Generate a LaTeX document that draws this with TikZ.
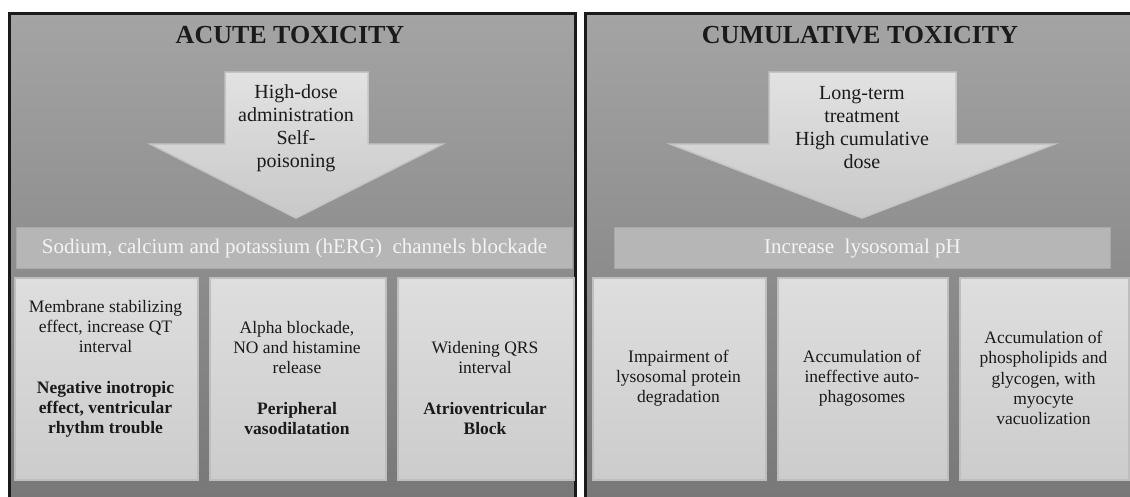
\documentclass[tikz,border=0pt]{standalone}
\usepackage{fontspec}
\setmainfont{Liberation Serif}
\definecolor{panelTop}{HTML}{A4A4A4}
\definecolor{panelBot}{HTML}{767676}
\definecolor{boxTop}{HTML}{DEDEDE}
\definecolor{boxBot}{HTML}{CCCCCC}
\definecolor{boxEdge}{HTML}{BEBEBE}
\definecolor{barFill}{HTML}{B6B6B6}
\definecolor{barEdge}{HTML}{A8A8A8}
\definecolor{arrTop}{HTML}{E2E2E2}
\definecolor{arrBot}{HTML}{C8C8C8}
\definecolor{arrEdge}{HTML}{C4C4C4}
\definecolor{barText}{HTML}{F4F4F4}
\definecolor{ink}{HTML}{1A1A1A}
\tikzset{
  panel/.style={draw=ink, line width=3pt, top color=panelTop, bottom color=panelBot},
  bigarrow/.style={draw=arrEdge, line width=1.5pt, top color=arrTop, bottom color=arrBot},
  bar/.style={draw=barEdge, line width=1pt, fill=barFill, inner sep=0pt,
    font=\fontsize{21}{24}\selectfont, text=barText, anchor=north west},
  effbox/.style={draw=boxEdge, line width=1.5pt, top color=boxTop, bottom color=boxBot,
    inner sep=0pt, anchor=north west, minimum height=202pt},
  title/.style={font=\fontsize{26}{29}\selectfont\bfseries, text=ink},
  arrtxt/.style={font=\fontsize{20}{23}\selectfont, text=ink, align=center},
  boxtxt/.style={font=\fontsize{17.5}{20.2}\selectfont, text=ink, align=center},
}
\begin{document}
\begin{tikzpicture}[x=1pt,y=-1pt]
\useasboundingbox (0,0) rectangle (1130,496);
\clip (0,0) rectangle (1130,496);
% panels
\path[panel] (9.5,13) rectangle (575,520);
\path[panel] (585,13) rectangle (1160,520);
% titles
\node[title] (t1) at (290,35) {ACUTE TOXICITY};
\node[title] (t2) at (860,35) {CUMULATIVE TOXICITY};
% arrows
\path[bigarrow] (225,72) -- (368,72) -- (368,144) -- (443,144) -- (296,218) -- (150,144) -- (225,144) -- cycle;
\path[bigarrow] (769,72) -- (956,72) -- (956,144) -- (1055,144) -- (862,218) -- (670,144) -- (769,144) -- cycle;
\node[arrtxt] (a1) at (296,128) {High-dose\\administration\\Self-\\poisoning};
\node[arrtxt] (a2) at (862,128) {Long-term\\treatment\\High cumulative\\dose};
% bars
\node[bar, minimum width=556pt, minimum height=41pt] (bar1) at (16,227) {Sodium, calcium and potassium (hERG)~ channels blockade};
\node[bar, minimum width=496pt, minimum height=41pt] (bar2) at (614,227) {Increase~ lysosomal pH};
% left boxes
\node[effbox, minimum width=183pt] (l1) at (14,277) {};
\node[effbox, minimum width=176pt] (l2) at (209,277) {};
\node[effbox, minimum width=176pt] (l3) at (397,277) {};
\node[boxtxt] (l1t) at (105.5,369) {Membrane stabilizing\\effect, increase QT\\interval\\[20.2pt]\textbf{Negative inotropic}\\\textbf{effect, ventricular}\\\textbf{rhythm trouble}};
\node[boxtxt] (l2t) at (297,378) {Alpha blockade,\\NO and histamine\\release\\[20.2pt]\textbf{Peripheral}\\\textbf{vasodilatation}};
\node[boxtxt] (l3t) at (485,388) {Widening QRS\\interval\\[20.2pt]\textbf{Atrioventricular}\\\textbf{Block}};
% right boxes
\node[effbox, minimum width=173pt] (r1) at (592,277) {};
\node[effbox, minimum width=170pt] (r2) at (777,277) {};
\node[effbox, minimum width=169pt] (r3) at (959,277) {};
\node[boxtxt] (r1t) at (678.5,378) {Impairment of\\lysosomal protein\\degradation};
\node[boxtxt] (r2t) at (862,378) {Accumulation of\\ineffective auto-\\phagosomes};
\node[boxtxt] (r3t) at (1043.5,378) {Accumulation of\\phospholipids and\\glycogen, with\\myocyte\\vacuolization};
\end{tikzpicture}
\end{document}
